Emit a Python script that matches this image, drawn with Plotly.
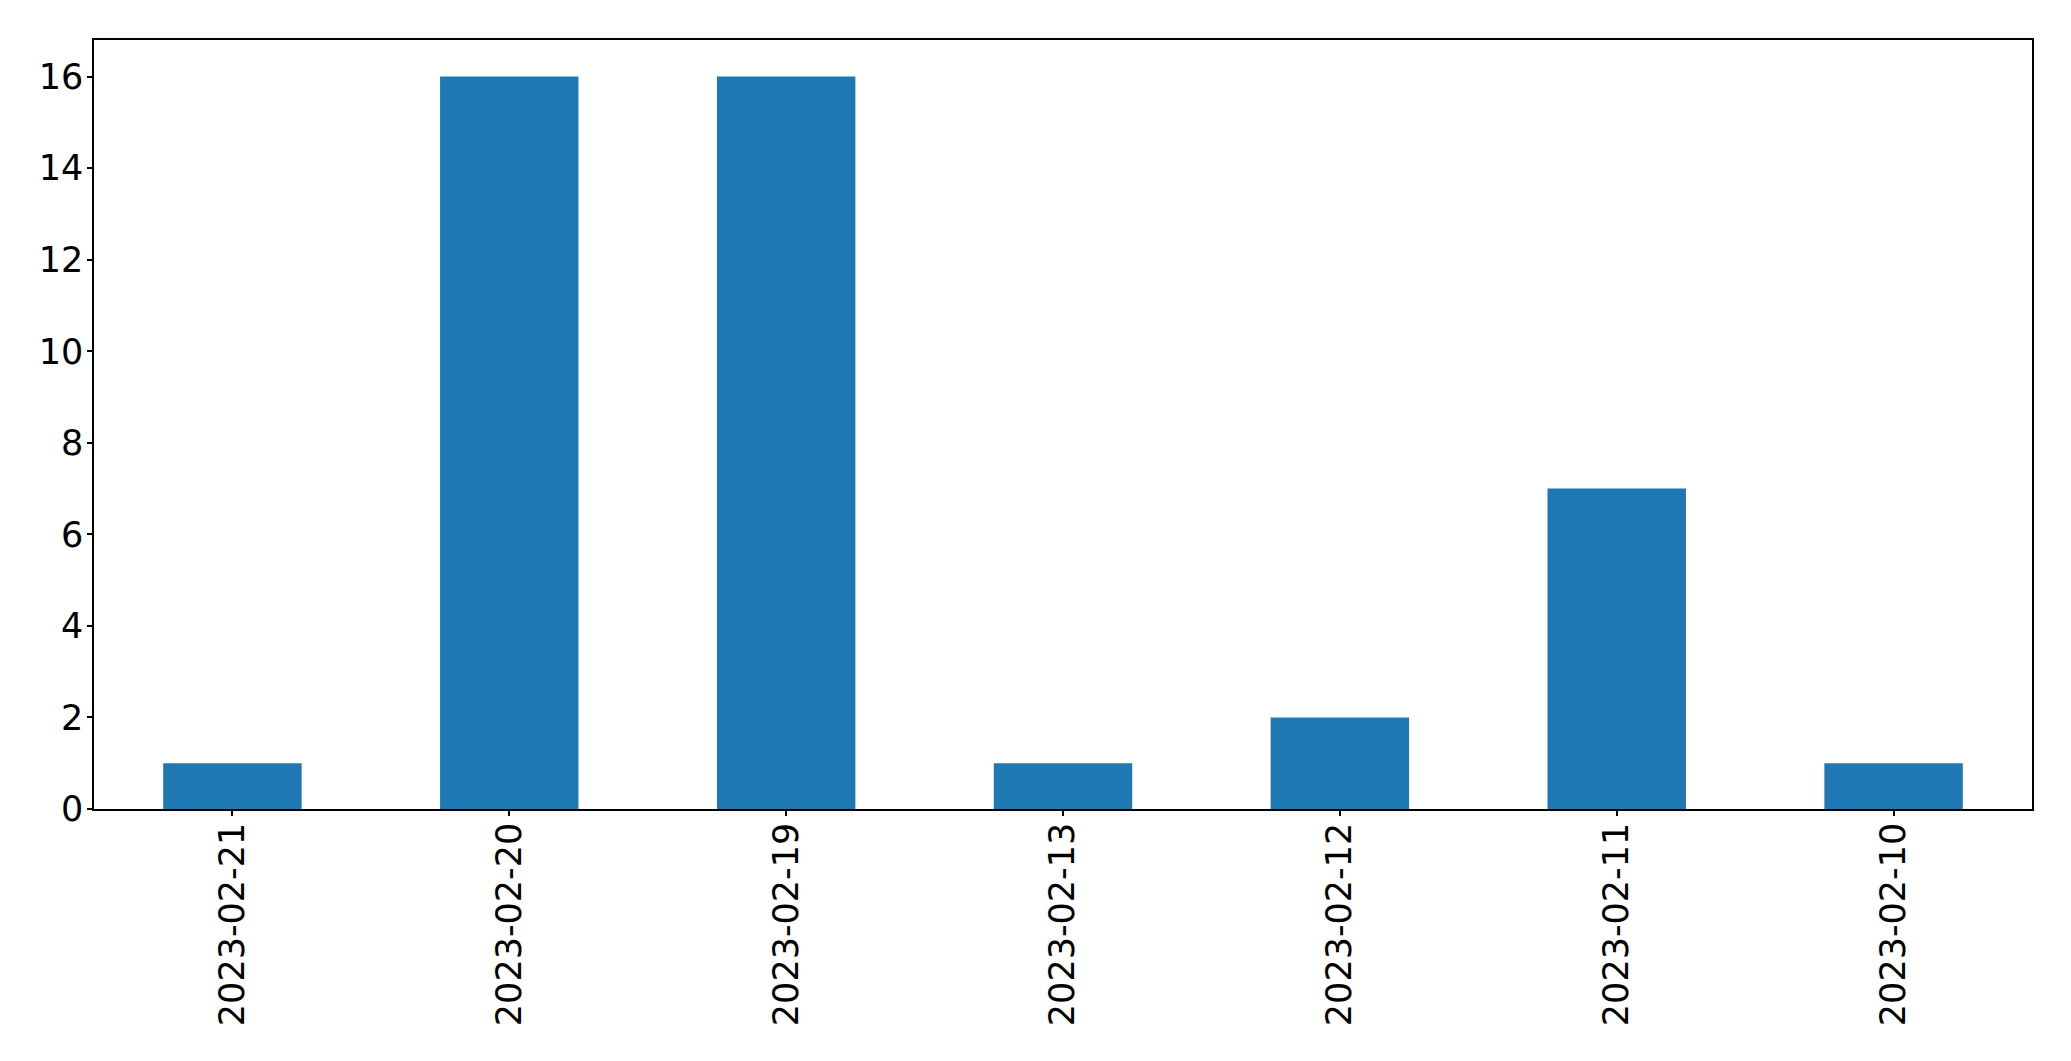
import plotly.graph_objects as go

dates = ["2023-02-21", "2023-02-20", "2023-02-19", "2023-02-13", "2023-02-12", "2023-02-11", "2023-02-10"]
counts = [1, 16, 16, 1, 2, 7, 1]
y_ticks = [0, 2, 4, 6, 8, 10, 12, 14, 16]

fig = go.Figure(go.Bar(x=dates, y=counts, width=0.5, marker=dict(color="#1f77b4", line=dict(width=0))))

fig.update_layout(
    width=2063, height=1053,
    margin=dict(l=86, r=39, t=32, b=252),
    paper_bgcolor="white", plot_bgcolor="white",
    font=dict(family="DejaVu Sans", size=35, color="black"),
    showlegend=False,
)
fig.update_xaxes(
    type="category", range=[-0.5, 6.5],
    showline=True, linecolor="black", linewidth=1.5, mirror=True,
    ticks="outside", ticklen=5, tickcolor="black", tickwidth=1.5,
    tickangle=-90, showgrid=False, zeroline=False, ticklabelstandoff=-7,
)
fig.update_yaxes(
    range=[0, 16.8], tickvals=y_ticks,
    showline=True, linecolor="black", linewidth=1.5, mirror=True,
    ticks="outside", ticklen=5, tickcolor="black", tickwidth=1.5,
    showgrid=False, zeroline=False, ticklabelstandoff=-3,
)

fig.write_html("out.html")
